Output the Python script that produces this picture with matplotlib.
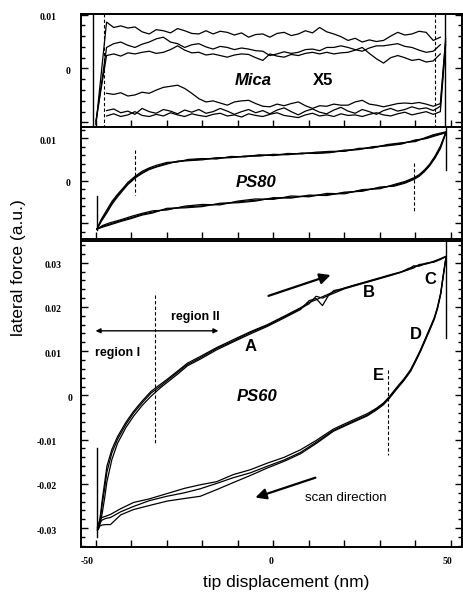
import matplotlib
matplotlib.use("Agg")
import matplotlib.pyplot as plt
import matplotlib.transforms as mtransforms
from matplotlib.ticker import MultipleLocator
import numpy as np

# ---- data (lateral force in units of 1e-3, x in nm) ----
# Mica (X5): forward traces (upper group) and return traces (lower group)
mica_x = np.arange(-47, 48, 2)
mica_fwd_1 = [8.6, 7.6, 7.9, 7.5, 7.7, 6.8, 6.4, 7.2, 7.0, 6.6, 7.4, 7.0, 6.5, 6.4, 7.0, 6.4,
              6.9, 6.7, 6.2, 6.6, 5.8, 6.3, 6.4, 5.8, 6.5, 6.7, 6.1, 6.4, 7.0, 6.6, 7.6, 6.8,
              6.4, 5.9, 5.2, 5.6, 4.9, 5.3, 5.0, 5.2, 6.0, 6.7, 6.2, 6.4, 6.9, 6.7, 5.2, 5.8]
mica_fwd_2 = [3.9, 4.6, 4.9, 4.3, 3.9, 4.5, 4.9, 5.5, 5.8, 4.9, 4.6, 3.9, 4.4, 4.6, 4.0, 3.6,
              4.1, 3.9, 3.5, 3.8, 3.6, 3.3, 3.2, 2.4, 2.7, 3.1, 2.8, 3.0, 3.5, 3.6, 3.3, 3.9,
              3.9, 4.2, 3.9, 3.5, 3.2, 3.8, 4.2, 4.2, 4.4, 4.6, 4.1, 3.9, 3.4, 3.0, 3.2, 4.4]
mica_fwd_3 = [2.4, 2.7, 2.3, 2.9, 2.7, 3.0, 3.2, 2.8, 3.0, 3.5, 4.2, 3.4, 2.9, 3.0, 2.5, 2.7,
              2.4, 2.1, 2.5, 2.7, 2.6, 2.0, 1.5, 2.7, 2.3, 2.1, 2.6, 2.4, 2.8, 3.0, 2.7, 3.0,
              2.7, 2.9, 3.0, 3.4, 3.9, 2.8, 1.8, 1.0, 2.0, 2.4, 2.0, 1.5, 1.7, 1.2, 1.4, 2.7]
mica_ret_1 = [-4.6, -4.8, -4.5, -5.1, -4.9, -4.4, -4.6, -4.0, -3.5, -3.3, -3.1, -3.7, -4.6, -5.6,
              -6.2, -6.0, -6.4, -6.8, -6.2, -6.0, -5.9, -6.5, -7.0, -7.1, -6.6, -6.9, -6.5, -6.2,
              -6.9, -7.4, -6.9, -7.0, -6.6, -6.8, -6.8, -6.2, -5.9, -6.6, -6.8, -7.1, -6.8, -6.5,
              -6.4, -6.5, -6.3, -6.6, -7.0, -6.5]
mica_ret_2 = [-7.8, -7.5, -8.2, -7.9, -8.5, -7.4, -8.0, -8.3, -7.6, -7.9, -8.4, -7.7, -8.1, -7.6,
              -8.3, -8.0, -7.4, -7.9, -8.5, -8.0, -7.6, -8.2, -7.8, -8.4, -7.7, -7.3, -8.0, -8.6,
              -7.9, -7.5, -8.1, -8.4, -7.7, -7.2, -7.9, -8.3, -7.6, -8.0, -8.5, -7.8, -7.4, -7.9,
              -7.6, -7.1, -7.5, -7.3, -7.8, -7.0]
mica_ret_3 = [-8.8, -8.4, -8.9, -8.6, -8.0, -8.7, -8.9, -8.5, -8.8, -8.2, -8.6, -8.9, -8.4, -8.7,
              -8.9, -8.5, -8.3, -8.8, -8.6, -9.0, -8.4, -8.7, -8.9, -8.5, -8.2, -8.7, -8.9, -9.1,
              -8.6, -8.3, -8.8, -8.6, -8.9, -8.4, -8.7, -8.6, -8.9, -8.5, -8.2, -8.6, -8.8, -8.4,
              -8.1, -8.6, -8.3, -8.0, -8.5, -8.0]
mica_start = [-50.0, [-10.4, -10.1, -9.7]]   # x, y where forward traces begin
mica_turn = [48.5, [5.6, 5.0, 4.4]]          # x, y where return traces begin

# PS80
ps80_fwd_x = [-49.7, -48.5, -47, -45.5, -44, -42, -41, -40, -39, -37, -35, -33, -30, -27, -24, -20,
              -16, -12, -8, -4, 0, 4, 8, 12, 16, 20, 24, 28, 32, 36, 40, 43, 45, 47, 48.6]
ps80_fwd = [
    [-11.4, -9.4, -7.4, -5.3, -3.6, -1.6, -0.7, 0.0, 0.8, 1.9, 2.8, 3.3, 4.1, 4.5, 4.8, 5.1, 5.3, 5.5,
     5.7, 5.9, 6.0, 6.2, 6.4, 6.5, 6.7, 7.0, 7.4, 7.8, 8.3, 8.8, 9.4, 10.0, 10.6, 11.0, 11.4],
    [-11.4, -9.1, -7.0, -4.9, -3.3, -1.4, -0.4, 0.3, 1.0, 2.2, 3.0, 3.6, 4.3, 4.4, 5.0, 5.2, 5.1, 5.7,
     5.6, 6.1, 5.9, 6.4, 6.3, 6.7, 6.9, 6.9, 7.6, 7.7, 8.5, 8.9, 9.2, 10.2, 10.8, 11.2, 11.5],
    [-11.4, -9.6, -7.7, -5.6, -3.9, -1.9, -0.9, -0.2, 0.6, 1.7, 2.6, 3.2, 3.9, 4.6, 4.7, 4.9, 5.4, 5.4,
     5.8, 5.8, 6.2, 6.1, 6.5, 6.4, 6.6, 7.2, 7.3, 8.0, 8.2, 8.6, 9.6, 9.9, 10.4, 10.9, 11.3],
]
ps80_ret_x = [-49.7, -48, -46, -43, -40, -37, -34, -30, -25, -20, -15, -10, -5, 0, 5, 10, 15, 20, 25,
              30, 34, 37, 39.6, 41, 42.5, 44, 45.5, 47, 48.6]
ps80_ret = [
    [-11.4, -10.7, -10.2, -9.4, -8.7, -7.9, -7.4, -6.7, -6.2, -5.9, -5.5, -5.0, -4.6, -4.2, -3.9,
     -3.6, -3.3, -2.9, -2.3, -1.7, -1.1, -0.4, 0.5, 1.2, 2.3, 3.7, 5.5, 7.8, 11.4],
    [-11.4, -10.5, -9.9, -9.2, -8.4, -7.7, -7.1, -6.9, -6.0, -5.6, -5.7, -4.8, -4.3, -4.4, -3.6,
     -3.8, -3.0, -3.1, -2.1, -1.9, -0.9, -0.2, 0.7, 1.4, 2.5, 3.9, 5.8, 8.1, 11.5],
    [-11.4, -10.9, -10.4, -9.6, -8.9, -8.1, -7.6, -6.5, -6.4, -6.1, -5.3, -5.2, -4.8, -4.0, -4.1,
     -3.4, -3.5, -2.7, -2.5, -1.5, -1.3, -0.6, 0.3, 1.0, 2.1, 3.5, 5.3, 7.5, 11.3],
]

# PS60
ps60_fwd_x = [-49.3, -48.8, -48.2, -47.5, -46.9, -45.5, -43.9, -41.5, -39.4, -37, -34.5, -32, -30,
              -27, -24.2, -20.6, -16, -11.3, -6.5, -1.7, 3, 7.6, 10, 12, 13.8, 15.5, 17, 20, 23,
              26.5, 30, 33, 35.8, 38, 39.5, 41, 43, 45.1, 47, 48.5]
ps60_fwd = [
    [-30.0, -27.5, -23.5, -19.5, -16.0, -12.2, -9.3, -6.0, -3.6, -1.3, 0.9, 2.4, 3.6, 5.5, 7.3, 8.8,
     10.8, 12.6, 14.4, 16.0, 17.9, 19.8, 21.0, 21.6, 22.3, 22.9, 23.4, 24.3, 25.0, 25.8, 26.6, 27.3,
     27.9, 28.5, 29.3, 29.2, 29.8, 30.3, 30.9, 31.4],
    [-30.3, -29.0, -26.5, -23.0, -19.5, -14.5, -10.8, -7.2, -4.7, -2.3, -0.2, 1.6, 2.9, 4.8, 6.7, 8.2,
     10.3, 12.1, 13.9, 15.6, 17.5, 19.4, 21.4, 21.9, 20.3, 22.6, 23.1, 24.1, 24.8, 25.6, 26.4, 27.1,
     27.8, 28.4, 28.8, 29.6, 29.7, 30.2, 30.8, 31.3],
    [-30.1, -28.0, -24.5, -20.8, -17.3, -13.0, -9.9, -6.5, -4.0, -1.7, 0.5, 2.0, 3.3, 5.2, 7.0, 8.5,
     10.6, 12.3, 14.2, 15.8, 17.7, 19.6, 20.7, 22.4, 22.0, 22.6, 23.7, 24.2, 24.9, 25.7, 26.5, 27.2,
     27.8, 28.7, 29.0, 29.4, 29.9, 30.1, 30.7, 31.4],
]
ps60_ret_x = [-49.6, -49.0, -48.3, -47.2, -45.9, -43, -39.4, -35, -30, -25, -20.6, -16, -11.3, -6.5,
              -1.7, 3, 7.6, 12, 16.9, 21.5, 26.5, 29, 31, 32.5, 34.9, 36.8, 38.6, 40, 41.4, 42.8,
              44.2, 45.3, 46.2, 47.1, 47.9, 48.6]
ps60_ret = [
    [-29.9, -28.4, -27.6, -27.3, -26.9, -25.6, -24.2, -23.4, -22.2, -21.0, -20.2, -19.5, -17.9, -16.8,
     -15.3, -14.0, -12.3, -10.2, -7.6, -5.9, -4.1, -2.9, -1.7, -0.4, 2.0, 3.8, 5.8, 8.0, 10.3, 12.9,
     15.5, 17.6, 20.0, 23.2, 27.7, 31.3],
    [-30.2, -29.0, -28.2, -27.8, -27.6, -26.3, -25.1, -23.8, -22.8, -22.0, -21.1, -19.9, -18.6, -17.5,
     -16.0, -14.6, -12.9, -10.6, -7.9, -6.2, -4.4, -3.1, -1.9, -0.6, 1.8, 3.6, 5.6, 7.8, 10.1, 12.7,
     15.3, 17.4, 19.8, 23.0, 27.5, 31.2],
    [-30.5, -29.6, -29.3, -29.2, -29.2, -27.0, -25.8, -24.9, -23.9, -23.3, -22.8, -21.3, -19.7, -18.1,
     -16.4, -14.9, -13.2, -10.9, -8.1, -6.4, -4.6, -3.3, -2.1, -0.8, 1.6, 3.4, 5.4, 7.6, 9.9, 12.5,
     15.1, 17.2, 19.6, 22.8, 27.3, 31.1],
]

# reference lines: (x, y0, y1) in nm / 1e-3
mica_solid = [(-50.8, -11.0, 10.2), (48.3, -11.0, 10.2)]
mica_dash = [(-47.8, -11.0, 10.2), (45.6, -11.0, 10.2)]
ps80_solid = [(-49.7, -3.6, -11.6), (48.6, 12.7, 2.5)]
ps80_dash = [(-39.0, 7.2, -3.4), (39.6, 4.2, -7.6)]
ps60_solid = [(-49.7, -11.8, -31.9), (48.6, 34.9, 13.0)]
ps60_dash = [(-33.3, 22.7, -11.1), (32.4, 5.8, -13.4)]

ytick_top = ["0.01", "0"]
ytick_bottom = ["0.03", "0.02", "0.01", "0", "-0.01", "-0.02", "-0.03"]
xtick_labels = ["-50", "0", "50"]
point_labels = ["A", "B", "C", "D", "E"]
point_xy = [(-6.5, 11.0), (26.8, 23.2), (44.2, 26.1), (40.0, 13.7), (29.6, 4.4)]

SANS = "Liberation Sans"
SERIF = "Liberation Serif"
S = 1e-3

fig = plt.figure(figsize=(4.64, 5.94), dpi=100)
W, H = 464.0, 594.0


def make_axes(top_px, bot_px):
    return fig.add_axes([81 / W, 1 - bot_px / H, 381 / W, (bot_px - top_px) / H])


ax1 = make_axes(14, 127.3)
ax2 = make_axes(126.7, 239.3)
ax3 = make_axes(241, 546.7)

lims = [(-0.0109, 0.0101), (-0.0138, 0.0127), (-0.0342, 0.0349)]
for ax, yl in zip([ax1, ax2, ax3], lims):
    ax.set_xlim(-54.2, 53.1)
    ax.set_ylim(*yl)
    ax.set_xticks(np.arange(-50, 51, 10))
    ax.yaxis.set_major_locator(MultipleLocator(0.01))
    ax.yaxis.set_minor_locator(MultipleLocator(0.002))
    ax.tick_params(which="both", direction="in", right=True, top=False,
                   labelleft=False, labelbottom=False, width=1.0)
    ax.tick_params(which="major", length=5)
    ax.tick_params(which="minor", length=3)
    for sp in ax.spines.values():
        sp.set_linewidth(1.4)

lw = 0.9
# Mica: forward traces start low at the left turning point, return traces start high at the right
for i, yf in enumerate([mica_fwd_1, mica_fwd_2, mica_fwd_3]):
    xs = np.concatenate([[mica_start[0]], mica_x])
    ys = np.concatenate([[mica_start[1][i]], yf]) * S
    ax1.plot(xs, ys, color="black", lw=lw)
for i, yr in enumerate([mica_ret_1, mica_ret_2, mica_ret_3]):
    xs = np.concatenate([mica_x, [mica_turn[0]]])
    ys = np.concatenate([yr, [mica_turn[1][i]]]) * S
    ax1.plot(xs, ys, color="black", lw=lw)

# PS80
for y in ps80_fwd:
    ax2.plot(ps80_fwd_x, np.array(y) * S, color="black", lw=lw)
for y in ps80_ret:
    ax2.plot(ps80_ret_x, np.array(y) * S, color="black", lw=lw)

# PS60
for y in ps60_fwd:
    ax3.plot(ps60_fwd_x, np.array(y) * S, color="black", lw=lw)
for y in ps60_ret:
    ax3.plot(ps60_ret_x, np.array(y) * S, color="black", lw=lw)

for ax, solid, dash in [(ax1, mica_solid, mica_dash), (ax2, ps80_solid, ps80_dash),
                        (ax3, ps60_solid, ps60_dash)]:
    for x, y0, y1 in solid:
        ax.plot([x, x], [y0 * S, y1 * S], color="black", lw=1.0)
    for x, y0, y1 in dash:
        ax.plot([x, x], [y0 * S, y1 * S], color="black", lw=0.8, ls=(0, (3, 2)))


# y tick labels, drawn as text so they can sit where the original puts them
def ylab(ax, labels, values, right_pos, right_neg, right_zero):
    trans = mtransforms.offset_copy(ax.get_yaxis_transform(), fig=fig, x=0, y=-3, units="dots")
    for t, v in zip(labels, values):
        if t == "0":
            px = right_zero
        elif t.startswith("-"):
            px = right_neg
        else:
            px = right_pos
        ax.text((px - 81) / 381, v, t, transform=trans, ha="right", va="center",
                fontsize=7, fontweight="bold", family=SERIF)


ylab(ax1, ytick_top, [0.01, 0.0], 57, 57, 71)
ylab(ax2, ytick_top, [0.01, 0.0], 57, 57, 71)
ylab(ax3, ytick_bottom, [0.03, 0.02, 0.01, 0.0, -0.01, -0.02, -0.03], 62, 57, 73)

for t, x in zip(xtick_labels, [-52.4, -0.6, 49.0]):
    ax3.text(x, -0.05, t, transform=ax3.get_xaxis_transform(), ha="center", va="center",
             fontsize=7, fontweight="bold", family=SERIF)

# panel labels
ax1.text(-5.6, -2.2 * S, "Mica", ha="center", va="center", fontsize=12,
         fontweight="bold", style="italic", family=SANS)
ax1.text(14.0, -2.2 * S, "X5", ha="center", va="center", fontsize=12,
         fontweight="bold", family=SANS)
ax2.text(-5.0, -0.5 * S, "PS80", ha="center", va="center", fontsize=12,
         fontweight="bold", style="italic", family=SANS)
ax3.text(-4.5, -0.3 * S, "PS60", ha="center", va="center", fontsize=12,
         fontweight="bold", style="italic", family=SANS)

for t, (x, y) in zip(point_labels, point_xy):
    ax3.text(x, y * S, t, ha="center", va="center", fontsize=12, fontweight="bold", family=SANS)

ax3.text(-22.0, 17.8 * S, "region II", ha="center", va="center", fontsize=9,
         fontweight="bold", family=SANS)
ax3.text(-44.0, 9.6 * S, "region I", ha="center", va="center", fontsize=9,
         fontweight="bold", family=SANS)
ax3.annotate("", xy=(-50.1, 14.6 * S), xytext=(-15.5, 14.6 * S),
             arrowprops=dict(arrowstyle="<|-|>", color="black", lw=1.0, mutation_scale=7,
                             shrinkA=0, shrinkB=0))
ax3.annotate("", xy=(16.1, 27.2 * S), xytext=(-1.4, 22.5 * S),
             arrowprops=dict(arrowstyle="-|>", color="black", lw=1.6, mutation_scale=16,
                             shrinkA=0, shrinkB=0))
ax3.annotate("", xy=(-5.1, -23.1 * S), xytext=(11.8, -18.6 * S),
             arrowprops=dict(arrowstyle="-|>", color="black", lw=1.6, mutation_scale=16,
                             shrinkA=0, shrinkB=0))
ax3.text(9.0, -23.1 * S, "scan direction", ha="left", va="center", fontsize=9.5, family=SANS)

fig.text(0.039, 0.549, "lateral force (a.u.)", rotation=90, ha="center", va="center",
         fontsize=12.5, family=SANS)
fig.text(0.616, 0.019, "tip displacement (nm)", ha="center", va="center",
         fontsize=12.5, family=SANS)

fig.savefig("out.png", dpi=100)
